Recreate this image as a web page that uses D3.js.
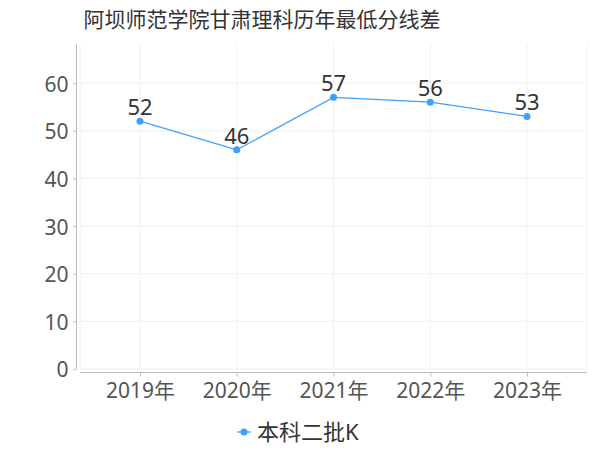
<!DOCTYPE html>
<html><head><meta charset="utf-8">
<script src="https://cdn.jsdelivr.net/npm/d3@7"></script>
<style>body{margin:0;background:#fff}svg{display:block}text{font-family:"Noto Sans","Noto Sans CJK SC",sans-serif}</style>
</head><body><svg id="c" width="600" height="450"></svg>
<script>
const title = "阿坝师范学院甘肃理科历年最低分线差";
const categories = ["2019年","2020年","2021年","2022年","2023年"];
const seriesName = "本科二批K";
const values = [52,46,57,56,53];
const yTicks = [0,10,20,30,40,50,60];

const svg = d3.select("#c");
const color = "#409EFF";
const x = d3.scalePoint().domain(categories).range([80,587]).padding(0.62);
const y = d3.scaleLinear().domain([0,68.2]).range([369,44]);

svg.append("text").attr("x",262).attr("y",27).attr("text-anchor","middle")
  .attr("font-size",21).attr("fill","#333").text(title);

// grid
const g = svg.append("g");
g.selectAll(".hg").data(yTicks).join("line")
  .attr("x1",80).attr("x2",587).attr("y1",d=>y(d)).attr("y2",d=>y(d))
  .attr("stroke","#f0f0f0").attr("stroke-width",1);
const vx = [80, ...categories.map(c=>x(c)), 587];
g.selectAll(".vg").data(vx).join("line")
  .attr("x1",d=>d).attr("x2",d=>d).attr("y1",44).attr("y2",369)
  .attr("stroke","#f0f0f0").attr("stroke-width",1);

// y axis
const ya = svg.append("g").attr("transform","translate(76.5,0)")
  .call(d3.axisLeft(y).tickValues(yTicks).tickSize(3).tickPadding(5));
ya.select(".domain").attr("d","M0,44V369").attr("stroke","#bbb");
ya.selectAll(".tick line").attr("stroke","#bbb");
ya.selectAll(".tick text").attr("font-size",21).attr("fill","#555").attr("dy","0.38em");

// x axis
const xa = svg.append("g").attr("transform","translate(0,372.5)")
  .call(d3.axisBottom(x).tickSize(4).tickPadding(7));
xa.select(".domain").attr("d","M80,0H587").attr("stroke","#bbb");
xa.selectAll(".tick line").attr("stroke","#bbb");
xa.selectAll(".tick text").attr("font-size",21).attr("fill","#555");

// line
const line = d3.line().x((d,i)=>x(categories[i])).y(d=>y(d));
svg.append("path").datum(values).attr("d",line).attr("fill","none")
  .attr("stroke",color).attr("stroke-width",1.2);
svg.selectAll(".pt").data(values).join("circle")
  .attr("cx",(d,i)=>x(categories[i])).attr("cy",d=>y(d)).attr("r",3.5).attr("fill",color);
svg.selectAll(".lbl").data(values).join("text")
  .attr("x",(d,i)=>x(categories[i])).attr("y",d=>y(d)-6)
  .attr("text-anchor","middle").attr("font-size",22).attr("fill","#333").text(d=>d);

// legend
const lg = svg.append("g");
lg.append("line").attr("x1",237).attr("x2",251).attr("y1",432).attr("y2",432).attr("stroke",color).attr("stroke-width",1.2);
lg.append("circle").attr("cx",244).attr("cy",432).attr("r",3.5).attr("fill",color);
lg.append("text").attr("x",257).attr("y",440).attr("font-size",22).attr("fill","#333").text(seriesName);
</script></body></html>
